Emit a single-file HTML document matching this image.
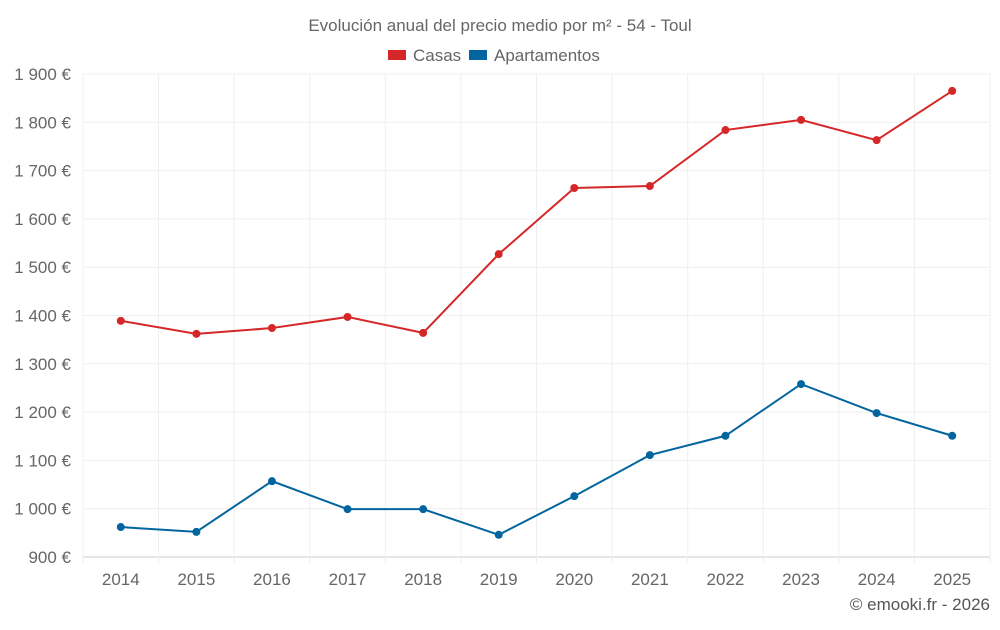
<!DOCTYPE html>
<html><head><meta charset="utf-8"><style>
body{margin:0;background:#fff;font-family:"Liberation Sans",sans-serif;}
svg text{font-family:"Liberation Sans",sans-serif;}
</style></head><body>
<svg id="c" width="1000" height="625"></svg>
<script>
const years=["2014","2015","2016","2017","2018","2019","2020","2021","2022","2023","2024","2025"];
const casas=[1389,1362,1374,1397,1364,1527,1664,1668,1784,1805,1763,1865];
const apartamentos=[962,952,1057,999,999,946,1026,1111,1151,1258,1198,1151];
const yTicks=[900,1000,1100,1200,1300,1400,1500,1600,1700,1800,1900];
const yLabels=["900 €","1 000 €","1 100 €","1 200 €","1 300 €","1 400 €","1 500 €","1 600 €","1 700 €","1 800 €","1 900 €"];

const L=83,R=990,T=74,B=557,ymin=900,ymax=1900;
const step=(R-L)/years.length;
const x=i=>L+step*(i+0.5);
const y=v=>B-(v-ymin)/(ymax-ymin)*(B-T);
const svg=document.getElementById('c');
const NS="http://www.w3.org/2000/svg";
function mk(tag,attrs,parent){const e=document.createElementNS(NS,tag);for(const k in attrs)e.setAttribute(k,attrs[k]);(parent||svg).appendChild(e);return e;}

const title=mk('text',{x:500,y:31,'text-anchor':'middle','font-size':17,fill:'#666'});
title.textContent="Evolución anual del precio medio por m² - 54 - Toul";



const leg=[["Casas","#d62728",388],["Apartamentos","#03659f",469]];
leg.forEach(([n,c,lx])=>{
  const g=mk('g',{});
  
  
  mk('rect',{x:lx,y:50,width:18,height:10,fill:c},g);
  const t=mk('text',{x:lx+25,y:61,'font-size':17,fill:'#666'},g);t.textContent=n;
});

yTicks.forEach((v,i)=>{
  const l=mk('line',{x1:L,x2:R,y1:y(v),y2:y(v),stroke:i==0?'#ccc':'#efefef'});
  
  
  const t=mk('text',{x:71,y:y(v)+6,'text-anchor':'end','font-size':17,fill:'#666'});
  t.textContent=yLabels[i];
  
  
});
for(let i=0;i<=years.length;i++){
  const l=mk('line',{x1:L+step*i,x2:L+step*i,y1:T,y2:B+6,stroke:'#efefef'});
  
  
}
years.forEach((yr,i)=>{
  const t=mk('text',{x:x(i),y:585,'text-anchor':'middle','font-size':17,fill:'#666'});
  t.textContent=yr;
  
  
});

function series(data,color,name){
  const p=mk('polyline',{points:data.map((v,i)=>x(i)+','+y(v)).join(' '),fill:'none',stroke:color,'stroke-width':2});
  
  
  data.forEach((v,i)=>{
    const c=mk('circle',{cx:x(i),cy:y(v),r:4,fill:color});
    
    
  });
}
series(casas,'#d62728','casas');
series(apartamentos,'#03659f','apartamentos');

const cr=mk('text',{x:990,y:610,'text-anchor':'end','font-size':17,fill:'#555'});
cr.textContent="© emooki.fr - 2026";


</script>
</body></html>
